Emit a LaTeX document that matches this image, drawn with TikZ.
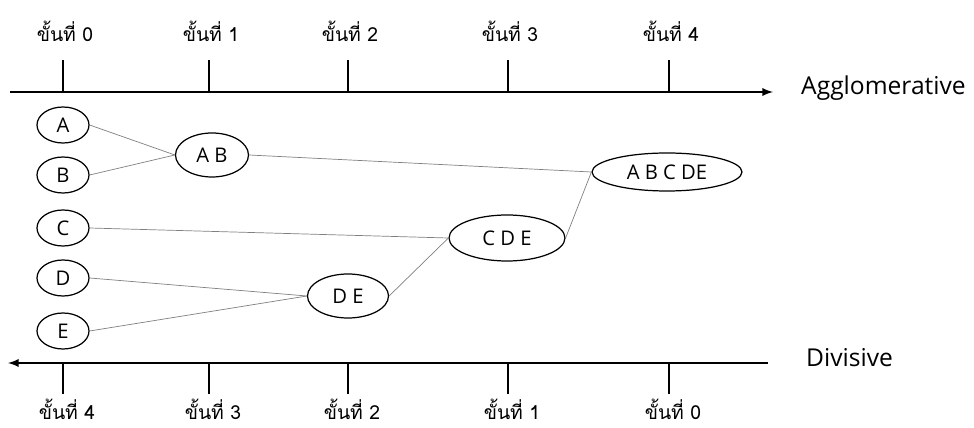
\documentclass[tikz,border=0pt]{standalone}
\usepackage{fontspec}
\setmainfont{Open Sans}
\newfontfamily\thaifont[Script=Thai]{Loma}
\usetikzlibrary{shapes.geometric}

\tikzset{
	cluster/.style = {ellipse, draw, line width = 0.7pt, inner sep = 0pt, font = \fontsize{11.5}{13}\selectfont},
	link/.style = {gray, line width = 0.4pt},
	axis/.style = {line width = 1.1pt},
	tick/.style = {line width = 1.3pt},
	stage/.style = {inner sep = 1pt, font = \thaifont\fontsize{11}{13}\selectfont},
	side/.style = {anchor = west, font = \fontsize{14}{16}\selectfont}
}

\begin{document}
\begin{tikzpicture}[x = 0.02cm, y = -0.02cm]
	%	page size
	\useasboundingbox (0, 0) rectangle (974, 428);
	
	%	axis ends
	\def\xleft{8}
	\def\xright{773}
	\def\ytop{92}
	\def\ybot{363}
	
	%	agglomerative axis
	\draw[axis, -latex] (10, \ytop) -- (\xright, \ytop);
	\node[side] (agg) at (795, 88) {Agglomerative};
	\foreach \x/\n in {63/0, 209/1, 348/2, 508/3, 669/4}{
		\draw[tick] (\x, 60) -- (\x, \ytop);
		\node[stage] (top\n) at (\x+2, 31) {ขั้นที่ \n};
	}
	
	%	divisive axis
	\draw[axis, -latex] (768, \ybot) -- (\xleft, \ybot);
	\node[side] (div) at (800, 358) {Divisive};
	\foreach \x/\n in {63/4, 209/3, 348/2, 508/1, 669/0}{
		\draw[tick] (\x, \ybot) -- (\x, 394);
		\node[stage] (bot\n) at (\x+4, 409) {ขั้นที่ \n};
	}
	
	%	single objects
	\foreach \n/\name/\y in {A/a/125, B/b/175, C/c/228, D/d/278, E/e/331}{
		\node[cluster, minimum width = 1.04cm, minimum height = 0.72cm] (\name) at (63, \y) {\n};
	}
	
	%	merged clusters
	\node[cluster, minimum width = 1.46cm, minimum height = 0.88cm] (ab) at (212, 155) {A B};
	\node[cluster, minimum width = 1.62cm, minimum height = 0.88cm] (de) at (348, 296) {D E};
	\node[cluster, minimum width = 2.32cm, minimum height = 0.92cm] (cde) at (507, 238) {C D E};
	\node[cluster, minimum width = 3.0cm, minimum height = 0.76cm] (abcde) at (667, 172) {A B C DE};
	
	%	links
	\draw[link] (a.east) -- (ab.west);
	\draw[link] (b.east) -- (ab.west);
	\draw[link] (d.east) -- (de.west);
	\draw[link] (e.east) -- (de.west);
	\draw[link] (c.east) -- (cde.west);
	\draw[link] (de.east) -- (cde.west);
	\draw[link] (ab.east) -- (abcde.west);
	\draw[link] (cde.east) -- (abcde.west);
\end{tikzpicture}
\end{document}
